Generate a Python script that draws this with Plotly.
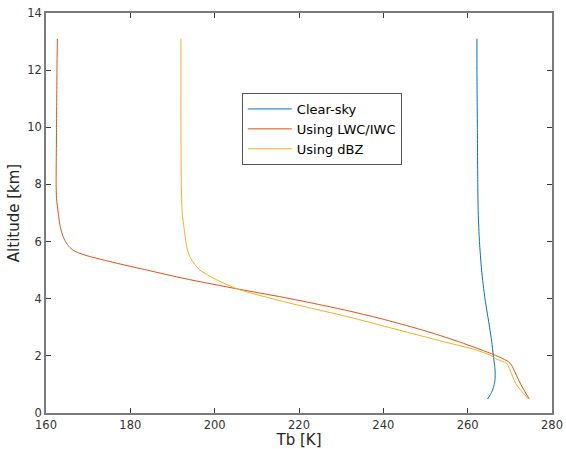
import plotly.graph_objects as go

# Clear-sky
clear_alt = [13.1, 12.0, 10.0, 8.0, 7.0, 6.0, 5.0, 4.0, 3.0, 2.5, 2.0, 1.5, 1.2, 1.0, 0.8, 0.65, 0.49]
clear_tb  = [262.2, 262.2, 262.3, 262.4, 262.5, 262.8, 263.3, 264.1, 265.2, 265.7, 266.1, 266.5, 266.5, 266.3, 265.9, 265.4, 264.7]

# Using LWC/IWC
lwc_alt = [13.1, 12.0, 10.0, 8.0, 7.5, 7.0, 6.5, 6.2, 6.0, 5.82, 5.7, 5.6, 5.48, 5.36, 5.2, 5.0, 4.7, 4.34, 4.0, 3.6, 3.3, 3.0, 2.79, 2.5, 2.2, 2.0, 1.8, 1.68, 1.4, 1.0, 0.49]
lwc_tb  = [162.7, 162.6, 162.5, 162.4, 162.5, 162.9, 163.4, 164.0, 164.6, 165.5, 166.4, 167.8, 170.3, 173.5, 178.0, 184.0, 193.0, 205.5, 218.0, 231.0, 239.5, 247.0, 251.8, 257.8, 263.4, 266.9, 269.6, 270.4, 271.3, 272.6, 274.6]

# Using dBZ
dbz_alt = [13.1, 12.0, 10.0, 8.0, 7.0, 6.4, 5.8, 5.47, 5.2, 5.0, 4.66, 4.33, 3.9, 3.35, 3.0, 2.53, 2.2, 2.0, 1.91, 1.74, 1.68, 1.3, 0.98, 0.49]
dbz_tb  = [192.0, 192.0, 192.0, 192.1, 192.3, 192.8, 193.4, 194.1, 195.3, 196.5, 200.5, 205.6, 216.3, 232.1, 241.2, 253.4, 262.1, 265.7, 266.5, 269.2, 269.5, 270.6, 271.6, 274.4]

names = ["Clear-sky", "Using LWC/IWC", "Using dBZ"]
colors = ["#0072BD", "#D95319", "#EDB120"]

x_ticks = [160, 180, 200, 220, 240, 260, 280]
y_ticks = [0, 2, 4, 6, 8, 10, 12, 14]

fig = go.Figure()
for name, xs, ys, c in zip(names, [clear_tb, lwc_tb, dbz_tb], [clear_alt, lwc_alt, dbz_alt], colors):
    fig.add_trace(go.Scatter(x=xs, y=ys, mode="lines", name=name,
                             line=dict(color=c, width=1, shape="spline", smoothing=0.6)))

axis_common = dict(showgrid=False, zeroline=False, showline=True, mirror="ticks",
                   linecolor="#7a7a7a", linewidth=1.5, ticks="inside", ticklen=5,
                   tickcolor="#3a3a3a", automargin=False,
                   tickfont=dict(family="DejaVu Sans", size=11.5, color="#333333"))

fig.update_layout(
    width=566, height=449,
    margin=dict(l=46, r=14, t=13, b=36),
    paper_bgcolor="white", plot_bgcolor="white",
    font=dict(family="DejaVu Sans", color="#262626"),
    xaxis=dict(range=[160, 280], tickvals=x_ticks,
               title=dict(text="Tb [K]", font=dict(size=15), standoff=2), **axis_common),
    yaxis=dict(range=[0, 14], tickvals=y_ticks,
               title=dict(text="Altitude [km]", font=dict(size=15), standoff=4), **axis_common),
    legend=dict(x=0.387, y=0.8, xanchor="left", yanchor="top",
                bgcolor="white", bordercolor="#555555", borderwidth=1,
                font=dict(size=13, color="black"), tracegroupgap=0, itemwidth=44),
    showlegend=True,
)

fig.write_html("out.html", config={"displayModeBar": False},
               post_script="document.body.style.margin='0';document.body.style.padding='0';")
